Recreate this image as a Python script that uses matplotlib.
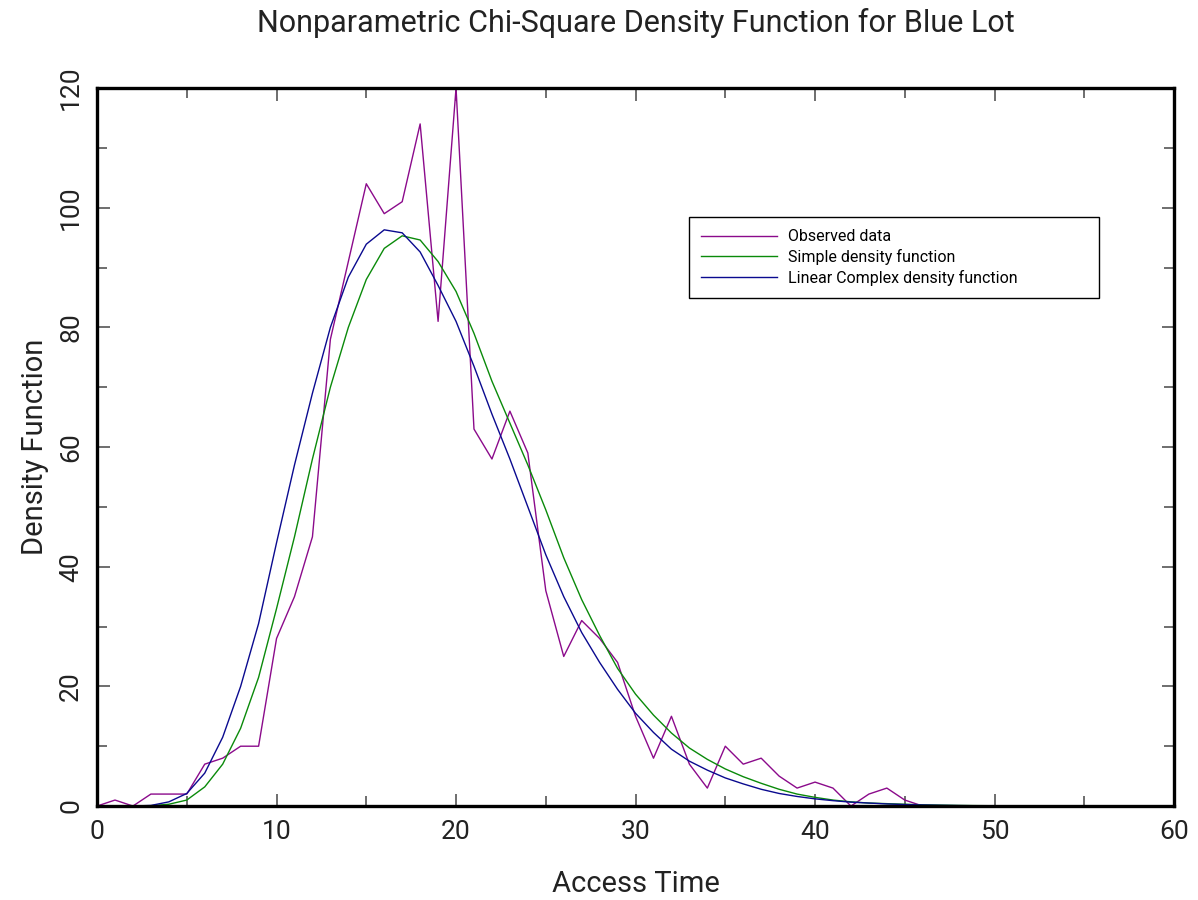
import numpy as np
import matplotlib
matplotlib.use("Agg")
import matplotlib.pyplot as plt
from matplotlib.ticker import MultipleLocator

plt.rcParams['font.family'] = ['Roboto', 'DejaVu Sans']

# access time grid (integer steps)
access_time = list(range(0, 61))

# observed density
observed = [0, 1, 0, 2, 2, 2, 7, 8, 10, 10,
            28, 35, 45, 78, 91, 104, 99, 101, 114, 81,
            120, 63, 58, 66, 59, 36, 25, 31, 28, 24,
            15, 8, 15, 7, 3, 10, 7, 8, 5, 3,
            4, 3, 0, 2, 3, 1, 0, 0, 0, 0,
            0, 0, 0, 0, 0, 0, 0, 0, 0, 0, 0]

# simple density function
simple = [0, 0, 0, 0.05, 0.3, 1.0, 3.2, 7.0, 13.0, 21.5,
          33, 45, 58, 70, 80, 88, 93.2, 95.3, 94.6, 91,
          86, 79, 71, 64, 57, 49.5, 41.5, 34.5, 28.5, 23,
          18.7, 15.2, 12.2, 9.7, 7.8, 6.2, 4.9, 3.8, 2.8, 2.0,
          1.45, 1.0, 0.7, 0.5, 0.4, 0.3, 0.2, 0.15, 0.1, 0.07,
          0.05, 0.03, 0.02, 0.01, 0, 0, 0, 0, 0, 0, 0]

# linear complex density function
complex_lin = [0, 0, 0, 0.1, 0.7, 2.1, 5.5, 11.5, 20, 30.5,
               44, 57, 69, 80, 88.4, 93.9, 96.3, 95.8, 92.6, 87,
               81, 73.5, 65.5, 58, 50, 42, 35, 29, 24, 19.5,
               15.5, 12.3, 9.5, 7.5, 6.0, 4.7, 3.7, 2.8, 2.1, 1.6,
               1.2, 0.9, 0.65, 0.5, 0.35, 0.25, 0.18, 0.12, 0.08, 0.05,
               0.03, 0.02, 0.01, 0, 0, 0, 0, 0, 0, 0, 0]

fig = plt.figure(figsize=(11.98, 9.0), dpi=100)
ax = fig.add_axes([0.081, 0.1044, 0.899, 0.7978])

ax.plot(access_time, observed, color='#8b0a8b', lw=1.0, label='Observed data')
ax.plot(access_time, simple, color='#0a8a0a', lw=1.0, label='Simple density function')
ax.plot(access_time, complex_lin, color='#0a0a8f', lw=1.0,
        label='Linear Complex density function')

ax.set_xlim(0, 60)
ax.set_ylim(0, 120)

ax.xaxis.set_major_locator(MultipleLocator(10))
ax.xaxis.set_minor_locator(MultipleLocator(5))
ax.yaxis.set_major_locator(MultipleLocator(20))
ax.yaxis.set_minor_locator(MultipleLocator(10))

ax.tick_params(which='both', direction='in', top=True, right=True,
               color='#555555', width=1.2)
ax.tick_params(which='major', length=9, labelsize=19, pad=10,
               labelcolor='#222222')
ax.tick_params(which='minor', length=7)
for lab in ax.get_yticklabels():
    lab.set_rotation(90)
    lab.set_va('center')

for sp in ax.spines.values():
    sp.set_linewidth(2.4)
    sp.set_color('black')

ax.set_xlabel('Access Time', fontsize=21, color='#222222', va='center')
ax.xaxis.set_label_coords(0.5, -0.1086)
ax.set_ylabel('Density Function', fontsize=21, color='#222222', va='center')
ax.yaxis.set_label_coords(-0.0576, 0.5)
ax.set_title('Nonparametric Chi-Square Density Function for Blue Lot',
             fontsize=22, pad=40, color='#222222')

leg = ax.legend(loc='upper left', bbox_to_anchor=(0.5497, 0.820, 0.3806, 0.0),
                mode='expand', borderaxespad=0.0, fontsize=11.5,
                handlelength=4.75, handletextpad=0.7, labelspacing=0.3,
                borderpad=0.75, fancybox=False, edgecolor='black',
                framealpha=1.0)
leg.get_frame().set_linewidth(1.0)

fig.savefig('out.png', dpi=100)
